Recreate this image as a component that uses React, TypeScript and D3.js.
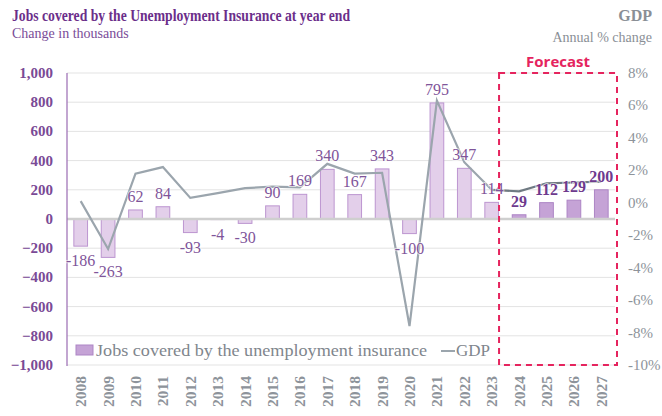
import React, { useEffect, useRef } from 'react';
import * as d3 from 'd3';

const years = ['2008', '2009', '2010', '2011', '2012', '2013', '2014', '2015', '2016', '2017',
  '2018', '2019', '2020', '2021', '2022', '2023', '2024', '2025', '2026', '2027'];
const jobs = [-186, -263, 62, 84, -93, -4, -30, 90, 169, 340, 167, 343, -100, 795, 347, 114, 29, 112, 129, 200];
const gdp = [0.1, -2.85, 1.8, 2.2, 0.3, 0.6, 0.9, 1.0, 0.95, 2.4, 1.8, 1.85, -7.6, 6.3, 2.5, 0.8, 0.7, 1.2, 1.25, 1.3];
const forecastYears = ['2024', '2025', '2026', '2027'];
const leftTicks = [1000, 800, 600, 400, 200, 0, -200, -400, -600, -800, -1000];
const rightTicks = [8, 6, 4, 2, 0, -2, -4, -6, -8, -10];

const W = 662;
const H = 416;
const serif = "'Liberation Serif', 'DejaVu Serif', serif";

const App: React.FC = () => {
  const svgRef = useRef<SVGSVGElement | null>(null);

  useEffect(() => {
    if (!svgRef.current) return;
    const svg = d3.select(svgRef.current);
    svg.selectAll('*').remove();

    const left = 67, right = 615, top = 73, bottom = 365;

    const x = d3.scaleBand<string>().domain(years).range([left, right]).paddingInner(0.5).paddingOuter(0.25);
    const y = d3.scaleLinear().domain([-1000, 1000]).range([bottom, top]);
    const y2 = d3.scaleLinear().domain([-10, 8]).range([bottom, top]);
    const cx = (d: string) => (x(d) as number) + x.bandwidth() / 2;
    const isF = (d: string) => forecastYears.includes(d);

    // titles
    svg.append('text').attr('x', 12).attr('y', 21).text('Jobs covered by the Unemployment Insurance at year end')
      .attr('textLength', 338).attr('lengthAdjust', 'spacingAndGlyphs')
      .style('font-family', serif).style('font-weight', 'bold').style('font-size', '16px').style('fill', '#6b2e8a');
    svg.append('text').attr('x', 12).attr('y', 38).text('Change in thousands')
      .style('font-family', serif).style('font-size', '14px').style('fill', '#7a4c98');
    svg.append('text').attr('x', 652).attr('y', 21).attr('text-anchor', 'end').text('GDP')
      .style('font-family', serif).style('font-weight', 'bold').style('font-size', '16px').style('fill', '#8a8f96');
    svg.append('text').attr('x', 652).attr('y', 42).attr('text-anchor', 'end').text('Annual % change')
      .style('font-family', serif).style('font-size', '14px').style('fill', '#8a8f96');

    // gridlines
    svg.append('g').selectAll('line').data(leftTicks.filter(t => t !== 0)).enter().append('line')
      .attr('x1', left).attr('x2', right).attr('y1', d => y(d)).attr('y2', d => y(d))
      .style('stroke', '#e3e3e3').style('stroke-width', 1);

    // left axis labels
    svg.append('g').selectAll('text').data(leftTicks).enter().append('text')
      .attr('x', 53).attr('y', d => y(d) + 5).attr('text-anchor', 'end')
      .text(d => d3.format(',')(d))
      .style('font-family', serif).style('font-weight', 'bold').style('font-size', '15px').style('fill', '#7a4a96');

    // right axis labels
    svg.append('g').selectAll('text').data(rightTicks).enter().append('text')
      .attr('x', 628).attr('y', d => y2(d) + 5)
      .text(d => d + '%')
      .style('font-family', serif).style('font-size', '15px').style('fill', '#8d939a');

    // bars
    svg.append('g').selectAll('rect').data(years).enter().append('rect')
      .attr('x', d => x(d) as number)
      .attr('width', x.bandwidth())
      .attr('y', (d, i) => y(Math.max(0, jobs[i])))
      .attr('height', (d, i) => Math.abs(y(jobs[i]) - y(0)))
      .style('fill', d => isF(d) ? '#c5a3d6' : '#e3cfea')
      .style('stroke', d => isF(d) ? '#ad85c5' : '#bc95d0')
      .style('stroke-width', 1);

    // zero line
    svg.append('line').attr('x1', left).attr('x2', right).attr('y1', y(0)).attr('y2', y(0))
      .style('stroke', '#cfcfcf').style('stroke-width', 2.5);

    // left axis line
    svg.append('line').attr('x1', left).attr('x2', left).attr('y1', top).attr('y2', bottom + 1)
      .style('stroke', '#9a6bb3').style('stroke-width', 1.2);

    // GDP line
    const pts: [number, number][] = years.map((d, i) => [cx(d), y2(gdp[i])]);
    const line = d3.line();
    const fIdx = years.indexOf(forecastYears[0]) - 1;
    svg.append('path').attr('d', line(pts.slice(0, fIdx + 1)) as string)
      .style('fill', 'none').style('stroke', '#9ba5ad').style('stroke-width', 2.2);
    svg.append('path').attr('d', line(pts.slice(fIdx)) as string)
      .style('fill', 'none').style('stroke', '#6f7a82').style('stroke-width', 2.2);

    // bar labels
    svg.append('g').selectAll('text').data(years).enter().append('text')
      .attr('x', d => cx(d))
      .attr('y', (d, i) => jobs[i] >= 0 ? y(jobs[i]) - 8 : y(jobs[i]) + 20)
      .attr('text-anchor', 'middle')
      .text((d, i) => String(jobs[i]))
      .style('font-family', serif)
      .style('font-size', '16px')
      .style('font-weight', d => isF(d) ? 'bold' : 'normal')
      .style('fill', d => isF(d) ? '#6e3a8e' : '#7f559a')
      .style('paint-order', 'stroke')
      .style('stroke', 'rgba(255,255,255,0.6)')
      .style('stroke-width', 2);

    // x labels
    svg.append('g').selectAll('text').data(years).enter().append('text')
      .attr('transform', d => `translate(${cx(d) + 5.5},376) rotate(-90)`)
      .attr('text-anchor', 'end')
      .text(d => d)
      .style('font-family', serif).style('font-weight', 'bold').style('font-size', '15.5px').style('fill', '#8d939a');

    // forecast box
    const fx0 = (x(forecastYears[0]) as number) - x.step() * 0.5 + 0.5;
    svg.append('rect').attr('x', fx0).attr('y', top).attr('width', right + 2 - fx0).attr('height', bottom - top)
      .style('fill', 'none').style('stroke', '#e5245e').style('stroke-width', 2).style('stroke-dasharray', '6,5');
    svg.append('text').attr('x', (fx0 + right + 2) / 2).attr('y', 67).attr('text-anchor', 'middle').text('Forecast')
      .style('font-family', "'Open Sans', 'Noto Sans', sans-serif").style('font-weight', 'bold')
      .style('font-size', '15px').style('fill', '#e5245e');

    // legend
    const lg = svg.append('g');
    lg.append('rect').attr('x', 76).attr('y', 345).attr('width', 17).attr('height', 10)
      .style('fill', '#c5a3d6').style('stroke', '#ad85c5');
    lg.append('text').attr('x', 96).attr('y', 356).text('Jobs covered by the unemployment insurance')
      .attr('textLength', 331).attr('lengthAdjust', 'spacingAndGlyphs')
      .style('font-family', serif).style('font-size', '17px').style('fill', '#7f868d');
    lg.append('line').attr('x1', 441).attr('x2', 455).attr('y1', 351).attr('y2', 351)
      .style('stroke', '#9ba5ad').style('stroke-width', 2);
    lg.append('text').attr('x', 456).attr('y', 356).text('GDP')
      .style('font-family', serif).style('font-size', '17px').style('fill', '#7f868d');
  }, []);

  return <svg ref={svgRef} width={W} height={H} style={{ position: 'absolute', left: 0, top: 0 }}></svg>;
};

export default App;
